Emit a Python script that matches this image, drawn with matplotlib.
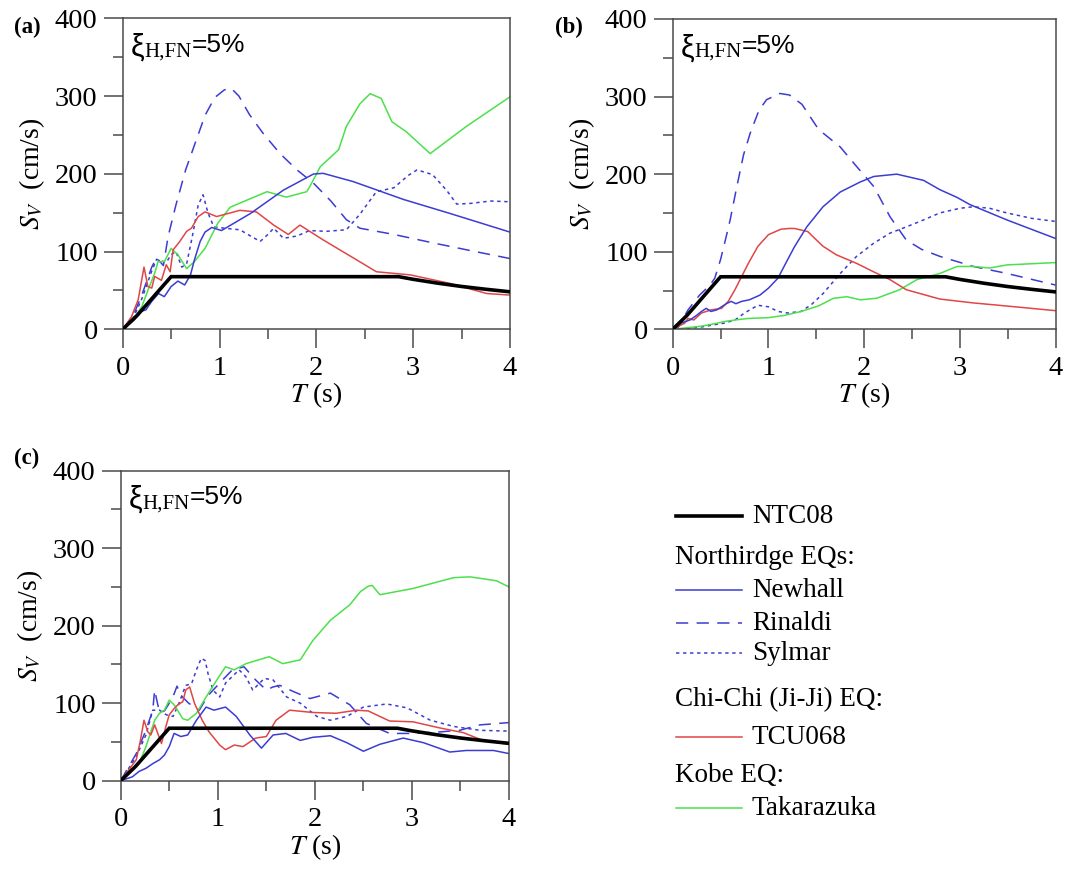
import matplotlib
matplotlib.use("Agg")
import matplotlib.pyplot as plt
from matplotlib.ticker import MultipleLocator

plt.rcParams['font.family'] = ['Liberation Serif', 'DejaVu Serif']
plt.rcParams['mathtext.fontset'] = 'stix'

BLUE = '#3c3cd2'
RED = '#e04646'
GREEN = '#4ce04c'
SPINE = '#4a4a4a'

# ---------------- data ----------------
ntc_T = [0, 0.15, 0.5, 2.85, 3.0, 3.25, 3.5, 3.75, 4.0]
ntc_S = [0, 18, 67.7, 67.7, 64.3, 59.4, 55.1, 51.5, 48.2]

# panel (a)
a_newhall_T = [0, .12, .19, .24, .30, .37, .43, .50, .57, .64, .70, .74, .80, .85, .92, 1.02, 1.32, 1.66, 1.97, 2.07, 2.38, 2.90, 3.38, 4.0]
a_newhall_S = [0, 12, 23, 25, 36, 46, 42, 55, 62, 57, 70, 89, 113, 125, 131, 127, 149, 179, 199.7, 200.6, 190, 167, 149, 125]
a_rinaldi_T = [0, .1, .2, .3, .35, .42, .47, .55, .65, .75, .85, .95, 1.05, 1.12, 1.2, 1.31, 1.45, 1.625, 1.8, 1.97, 2.15, 2.31, 2.45, 2.8, 3.21, 3.6, 4.0]
a_rinaldi_S = [0, 15, 45, 80, 92, 82, 120, 160, 205, 240, 275, 298, 308, 310, 300, 276, 252, 226, 205, 188, 165, 141, 130, 122, 111, 101, 91]
a_sylmar_T = [0, .1, .2, .3, .35, .45, .5, .55, .61, .66, .72, .78, .83, .88, .94, 1.05, 1.21, 1.32, 1.42, 1.5, 1.56, 1.66, 1.8, 1.93, 2.1, 2.31, 2.45, 2.62, 2.8, 2.95, 3.04, 3.2, 3.35, 3.45, 3.6, 3.8, 4.0]
a_sylmar_S = [0, 12, 40, 75, 90, 86, 96, 100, 80, 84, 120, 160, 173, 150, 132, 130, 128, 120, 113, 122, 130, 117, 120, 127, 126, 128, 148, 177, 182, 198, 205, 199, 178, 161, 162, 165, 164]
a_tcu_T = [0, .09, .16, .22, .26, .30, .33, .40, .45, .49, .52, .59, .66, .71, .78, .85, .97, 1.21, 1.38, 1.56, 1.71, 1.83, 2.07, 2.42, 2.62, 2.97, 3.38, 3.76, 4.0]
a_tcu_S = [0, 16, 38, 80, 55, 53, 68, 63, 83, 74, 102, 113, 126, 130, 145, 151, 145, 153, 151, 134, 122, 134, 115, 89, 74, 70, 59, 46, 44]
a_taka_T = [0, .1, .2, .26, .33, .365, .43, .5, .57, .66, .74, .85, .98, 1.11, 1.28, 1.49, 1.69, 1.90, 1.93, 2.04, 2.23, 2.31, 2.45, 2.555, 2.67, 2.78, 2.93, 3.175, 3.55, 4.0]
a_taka_S = [0, 10, 30, 50, 72, 87, 87, 104, 96, 78, 87, 104, 136, 157, 166, 177, 170, 177, 183, 209, 231, 261, 290, 303, 297, 267, 254, 226, 261, 299]

# panel (b)
b_newhall_T = [0, .09, .18, .25, .30, .35, .40, .46, .51, .56, .61, .66, .72, .80, .91, 1.0, 1.10, 1.18, 1.27, 1.40, 1.57, 1.75, 1.96, 2.10, 2.34, 2.62, 2.79, 2.97, 3.1, 3.49, 4.0]
b_newhall_S = [0, 8, 12, 18, 23, 27, 23, 25, 29, 33, 36, 33, 36, 38, 44, 53, 66, 85, 106, 132, 158, 177, 190, 197, 200, 192, 180, 170, 161, 141, 117]
b_rinaldi_T = [0, .06, .16, .28, .39, .44, .5, .55, .6, .67, .74, .81, .9, .98, 1.12, 1.22, 1.35, 1.5, 1.57, 1.75, 1.92, 2.10, 2.27, 2.44, 2.6, 2.79, 3.14, 3.49, 4.0]
b_rinaldi_S = [0, 3, 25, 44, 57, 66, 90, 115, 141, 184, 225, 253, 282, 296, 304, 302, 290, 262, 253, 235, 210, 184, 145, 115, 103, 94, 81, 72, 57]
b_sylmar_T = [0, .15, .3, .44, .54, .65, .75, .89, 1.0, 1.10, 1.2, 1.34, 1.45, 1.57, 1.75, 1.92, 2.10, 2.27, 2.44, 2.62, 2.79, 3.0, 3.14, 3.31, 3.49, 3.75, 4.0]
b_sylmar_S = [0, 1, 3, 6, 8, 12, 21, 31, 29, 23, 21, 23, 32, 46, 72, 94, 111, 124, 132, 141, 150, 156, 158, 156, 150, 143, 139]
b_tcu_T = [0, .125, .16, .22, .30, .40, .51, .58, .65, .72, .79, .89, 1.0, 1.13, 1.22, 1.27, 1.41, 1.57, 1.71, 1.92, 2.10, 2.27, 2.44, 2.79, 3.14, 3.49, 4.0]
b_tcu_S = [0, 8, 14, 12, 21, 25, 27, 36, 51, 68, 85, 107, 122, 129, 130, 130, 126, 107, 96, 85, 74, 64, 51, 39, 34, 30, 24]
b_taka_T = [0, .3, .47, .54, .65, .79, 1.0, 1.17, 1.34, 1.52, 1.68, 1.82, 1.96, 2.13, 2.37, 2.55, 2.79, 2.97, 3.14, 3.31, 3.49, 4.0]
b_taka_S = [0, 4, 8, 10, 12, 14, 15, 18, 23, 30, 40, 42, 38, 40, 51, 64, 72, 81, 81, 79, 83, 86]

# panel (c)
c_newhall_T = [0, .12, .19, .26, .33, .40, .45, .50, .55, .62, .69, .78, .88, .96, 1.08, 1.19, 1.33, 1.45, 1.57, 1.70, 1.85, 1.98, 2.16, 2.33, 2.50, 2.67, 2.91, 3.12, 3.39, 3.56, 3.84, 4.0]
c_newhall_S = [0, 5, 12, 16, 22, 27, 33, 44, 61, 57, 59, 78, 95, 91, 95, 83, 59, 42, 59, 61, 52, 56, 58, 49, 38, 47, 55, 49, 37, 39, 39, 35]
c_rinaldi_T = [0, .16, .26, .33, .35, .37, .40, .45, .50, .55, .58, .62, .70, .81, .90, 1.05, 1.15, 1.27, 1.39, 1.5, 1.57, 1.64, 1.78, 1.95, 2.16, 2.36, 2.53, 2.77, 3.01, 3.29, 3.49, 3.70, 4.0]
c_rinaldi_S = [0, 35, 65, 91, 117, 105, 88, 90, 100, 112, 122, 110, 100, 91, 110, 130, 143, 147, 130, 117, 121, 123, 115, 106, 113, 98, 74, 61, 61, 63, 65, 72, 75]
c_sylmar_T = [0, .16, .26, .33, .40, .47, .54, .60, .67, .73, .78, .83, .87, .90, .95, 1.02, 1.08, 1.22, 1.29, 1.36, 1.48, 1.57, 1.71, 1.85, 2.02, 2.16, 2.33, 2.50, 2.74, 2.95, 3.19, 3.43, 3.70, 4.0]
c_sylmar_S = [0, 31, 59, 91, 91, 85, 83, 100, 123, 125, 143, 158, 155, 138, 117, 108, 126, 143, 134, 117, 132, 130, 108, 100, 83, 78, 83, 95, 99, 94, 78, 70, 65, 64]
c_tcu_T = [0, .16, .20, .24, .28, .31, .35, .42, .47, .50, .55, .59, .64, .67, .71, .76, .84, .91, 1.02, 1.08, 1.17, 1.26, 1.39, 1.50, 1.60, 1.74, 1.98, 2.22, 2.43, 2.55, 2.77, 3.01, 3.29, 3.53, 3.73, 4.0]
c_tcu_S = [0, 27, 50, 78, 63, 59, 72, 48, 72, 85, 93, 98, 102, 117, 121, 100, 78, 63, 46, 40, 46, 44, 55, 57, 78, 91, 88, 87, 91, 90, 77, 76, 68, 62, 52, 47]
c_taka_T = [0, .19, .26, .35, .40, .45, .50, .55, .64, .69, .78, .88, .98, 1.08, 1.17, 1.29, 1.53, 1.67, 1.85, 1.98, 2.16, 2.36, 2.47, 2.55, 2.59, 2.67, 3.01, 3.43, 3.6, 3.87, 4.0]
c_taka_S = [0, 22, 44, 78, 87, 91, 104, 98, 80, 78, 87, 108, 128, 147, 143, 151, 160, 151, 156, 181, 207, 227, 244, 251, 252, 240, 248, 262, 263, 258, 250]

x_ticks = [0, 1, 2, 3, 4]
y_ticks = [0, 100, 200, 300, 400]
panel_labels = ['(a)', '(b)', '(c)']
legend_labels = ['NTC08', 'Northirdge EQs:', 'Newhall', 'Rinaldi', 'Sylmar',
                 'Chi-Chi (Ji-Ji) EQ:', 'TCU068', 'Kobe EQ:', 'Takarazuka']

panels = [
    dict(newhall=(a_newhall_T, a_newhall_S), rinaldi=(a_rinaldi_T, a_rinaldi_S),
         sylmar=(a_sylmar_T, a_sylmar_S), tcu=(a_tcu_T, a_tcu_S), taka=(a_taka_T, a_taka_S)),
    dict(newhall=(b_newhall_T, b_newhall_S), rinaldi=(b_rinaldi_T, b_rinaldi_S),
         sylmar=(b_sylmar_T, b_sylmar_S), tcu=(b_tcu_T, b_tcu_S), taka=(b_taka_T, b_taka_S)),
    dict(newhall=(c_newhall_T, c_newhall_S), rinaldi=(c_rinaldi_T, c_rinaldi_S),
         sylmar=(c_sylmar_T, c_sylmar_S), tcu=(c_tcu_T, c_tcu_S), taka=(c_taka_T, c_taka_S)),
]

W, H = 1069, 872
fig = plt.figure(figsize=(W / 100, H / 100), dpi=100)

# axes boxes in pixels: left, top, right, bottom
boxes = [(122.7, 18.3, 510, 329.3), (672.7, 19, 1055.7, 329.3), (120.7, 470.7, 509, 780.7)]
label_pos = [(14, 27), (555, 27), (14, 458)]

LW = 1.1
styles = {
    'newhall': dict(color=BLUE, lw=LW, ls='-'),
    'rinaldi': dict(color=BLUE, lw=LW, ls=(0, (8, 5.5))),
    'sylmar': dict(color=BLUE, lw=LW, ls=(0, (2.2, 2.4))),
    'tcu': dict(color=RED, lw=LW, ls='-'),
    'taka': dict(color=GREEN, lw=LW, ls='-'),
}
SANS = ['Liberation Sans', 'DejaVu Sans']

for i, (box, pdat) in enumerate(zip(boxes, panels)):
    l, t, r, b = box
    ax = fig.add_axes([l / W, 1 - b / H, (r - l) / W, (b - t) / H])
    for key in ['sylmar', 'rinaldi', 'taka', 'tcu', 'newhall']:
        T, S = pdat[key]
        ax.plot(T, S, **styles[key], zorder=2)
    ax.plot(ntc_T, ntc_S, color='black', lw=2.6, zorder=3, solid_joinstyle='miter')
    ax.set_xlim(0, 4)
    ax.set_ylim(0, 400)
    ax.set_xticks(x_ticks)
    ax.set_yticks(y_ticks)
    ax.xaxis.set_minor_locator(MultipleLocator(0.5))
    ax.yaxis.set_minor_locator(MultipleLocator(50))
    ax.tick_params(which='major', direction='out', length=14, width=1.1, color=SPINE,
                   labelsize=20.5)
    ax.tick_params(which='minor', direction='out', length=7.5, width=1.1, color=SPINE)
    ax.tick_params(axis='x', which='major', pad=5)
    ax.tick_params(axis='y', which='major', pad=4)
    for sp in ax.spines.values():
        sp.set_color(SPINE)
        sp.set_linewidth(1.1)
    ax.set_xlabel(r'$T$ (s)', fontsize=20, labelpad=0)
    ax.set_ylabel(r'$S_V$  (cm/s)', fontsize=20, labelpad=6)
    # damping annotation: xi + subscript + "=5%"
    t1 = ax.text(0.02, 0.88, 'ξ', transform=ax.transAxes,
                 fontsize=22, ha='left', va='baseline', family=SANS)
    t2 = ax.annotate('H,FN', xy=(1.0, 0.0), xycoords=t1, xytext=(0.5, 1), textcoords='offset points',
                     fontsize=15, ha='left', va='bottom')
    ax.annotate('=5%', xy=(1.0, 0.0), xycoords=t2, xytext=(0, 3), textcoords='offset points',
                fontsize=19, ha='left', va='bottom', family=SANS)
    lx, ly = label_pos[i]
    fig.text(lx / W, 1 - ly / H, panel_labels[i], fontsize=16.5, fontweight='bold',
             ha='left', va='center')

# legend drawn in a pixel-coordinate overlay
lg = fig.add_axes([0, 0, 1, 1], zorder=-1)
lg.set_xlim(0, W)
lg.set_ylim(H, 0)
lg.axis('off')
rows_y = [516, 557, 590, 623, 653, 700, 737, 775, 808]
entry_style = [dict(color='black', lw=2.6, ls='-'), None, styles['newhall'], styles['rinaldi'],
               styles['sylmar'], None, styles['tcu'], None, styles['taka']]
for lab, y, st in zip(legend_labels, rows_y, entry_style):
    if st is None:
        lg.text(675, y, lab, fontsize=19.5, ha='left', va='center')
    else:
        lg.plot([676, 742], [y, y], **st)
        lg.text(752, y, lab, fontsize=19.5, ha='left', va='center')

fig.savefig('out.png', dpi=100)
